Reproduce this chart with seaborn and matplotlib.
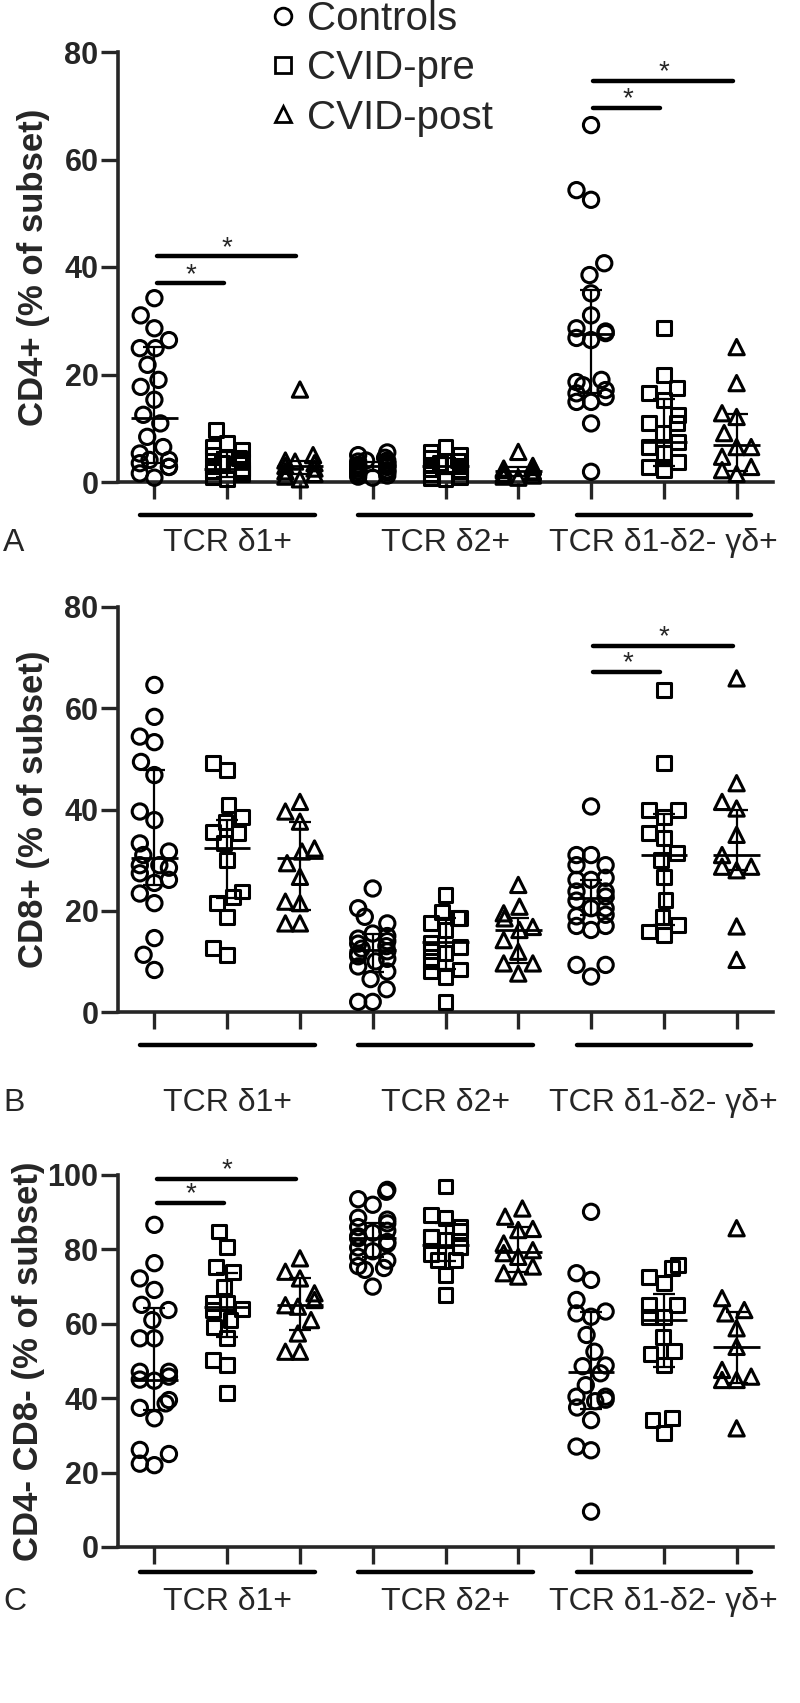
import numpy as np
import pandas as pd
import matplotlib
matplotlib.use('Agg')
import matplotlib.pyplot as plt
import matplotlib.transforms as mtransforms
from matplotlib.lines import Line2D
import seaborn as sns

sns.set_style('ticks')
plt.rcParams['font.family'] = ['Liberation Sans', 'DejaVu Sans']

subsets = ['TCR δ1+', 'TCR δ2+', 'TCR δ1-δ2- γδ+']
groups = ['Controls', 'CVID-pre', 'CVID-post']
markers = ['o', 's', '^']
marker_sizes = [11, 10, 11]

# Panel A: CD4+
cd4_d1_ctrl = [34.2, 31.0, 28.6, 26.4, 24.9, 24.9, 21.8, 19.0, 17.7, 15.3, 12.5, 10.9, 8.4, 6.5, 5.3, 4.1, 4.1, 3.5, 2.8, 2.8, 1.6, 0.8]
cd4_d1_pre = [9.7, 7.2, 6.5, 6.0, 5.0, 4.5, 4.0, 3.5, 3.0, 2.5, 2.0, 1.8, 1.5, 1.0, 0.5]
cd4_d1_post = [17.2, 5.0, 4.0, 3.8, 3.5, 3.0, 2.5, 2.0, 1.5, 1.0, 0.5]
cd4_d2_ctrl = [5.5, 5.0, 4.5, 4.0, 4.0, 3.8, 3.5, 3.5, 3.2, 3.0, 3.0, 2.8, 2.5, 2.5, 2.2, 2.0, 2.0, 1.8, 1.5, 1.2, 1.0, 0.8]
cd4_d2_pre = [6.5, 5.5, 5.0, 4.5, 4.0, 3.5, 3.2, 3.0, 2.5, 2.2, 2.0, 1.5, 1.0, 0.8, 0.5]
cd4_d2_post = [5.6, 3.0, 2.8, 2.5, 2.2, 2.0, 1.8, 1.5, 1.2, 1.0, 0.8]
cd4_dn_ctrl = [66.4, 54.3, 52.5, 40.7, 38.5, 35.1, 31.0, 28.6, 28.0, 27.7, 26.8, 26.4, 19.0, 18.6, 18.0, 17.1, 16.5, 15.8, 14.9, 14.9, 10.9, 1.9]
cd4_dn_pre = [28.6, 19.9, 17.5, 16.5, 15.3, 12.5, 10.9, 10.9, 9.1, 7.4, 6.5, 5.4, 3.7, 2.8, 2.2]
cd4_dn_post = [25.1, 18.4, 12.8, 12.1, 9.1, 6.5, 6.5, 4.7, 2.8, 2.2, 1.5]
cd4_median = [11.9, 2.5, 3.0, 2.9, 3.0, 2.0, 27.5, 7.4, 6.8]
cd4_q1 = [3.5, 1.0, 1.5, 2.0, 1.5, 1.2, 16.5, 3.0, 2.0]
cd4_q3 = [25.1, 5.5, 4.0, 3.8, 4.5, 2.8, 35.7, 15.5, 12.7]
cd4_sig = [('TCR δ1+', 'CVID-pre', 37.0), ('TCR δ1+', 'CVID-post', 42.0),
           ('TCR δ1-δ2- γδ+', 'CVID-pre', 69.6), ('TCR δ1-δ2- γδ+', 'CVID-post', 74.6)]

# Panel B: CD8+
cd8_d1_ctrl = [64.6, 58.3, 54.4, 53.3, 49.4, 46.8, 39.6, 37.9, 33.3, 31.7, 31.0, 29.0, 29.0, 28.5, 27.4, 26.1, 25.5, 23.4, 21.5, 14.6, 11.3, 8.3]
cd8_d1_pre = [49.1, 47.8, 40.9, 38.6, 37.6, 35.6, 35.3, 33.3, 30.0, 23.8, 22.8, 21.5, 18.8, 12.6, 11.3]
cd8_d1_post = [41.5, 39.6, 37.6, 32.3, 31.7, 29.4, 26.7, 21.8, 21.5, 17.5, 17.5]
cd8_d2_ctrl = [24.4, 20.5, 18.8, 17.5, 15.5, 15.0, 14.5, 14.0, 13.5, 13.0, 12.5, 12.0, 11.5, 11.0, 10.5, 10.0, 9.0, 8.0, 6.5, 4.5, 2.0, 2.0]
cd8_d2_pre = [23.1, 19.8, 18.5, 18.5, 17.5, 16.2, 13.6, 12.9, 12.0, 11.6, 10.0, 8.4, 8.0, 7.0, 2.0]
cd8_d2_post = [25.1, 20.8, 19.5, 18.5, 16.8, 16.2, 14.2, 11.9, 9.6, 9.6, 7.6]
cd8_dn_ctrl = [40.6, 31.0, 31.0, 29.0, 29.0, 26.5, 26.1, 26.1, 23.8, 23.8, 22.8, 22.0, 20.5, 20.5, 19.2, 18.9, 17.0, 17.0, 16.2, 9.3, 9.3, 7.0]
cd8_dn_pre = [63.6, 49.1, 39.9, 39.9, 38.6, 35.3, 34.3, 31.4, 30.0, 26.7, 22.1, 18.8, 17.2, 15.9, 15.2]
cd8_dn_post = [65.9, 45.2, 41.5, 40.2, 35.0, 31.0, 28.7, 28.7, 28.0, 16.9, 10.3]
cd8_median = [30.4, 32.3, 30.4, 12.3, 13.9, 16.2, 22.5, 31.0, 31.0]
cd8_q1 = [25.1, 22.5, 20.1, 8.0, 8.4, 9.6, 19.2, 17.2, 28.0]
cd8_q3 = [47.8, 37.9, 37.6, 15.5, 18.5, 18.5, 26.0, 39.2, 39.9]
cd8_sig = [('TCR δ1-δ2- γδ+', 'CVID-pre', 67.2), ('TCR δ1-δ2- γδ+', 'CVID-post', 72.3)]

# Panel C: CD4- CD8-
cdn_d1_ctrl = [86.6, 76.3, 72.2, 69.1, 65.1, 63.7, 61.0, 56.1, 56.1, 47.1, 47.1, 45.8, 45.0, 44.7, 39.5, 38.6, 37.4, 34.6, 26.1, 25.0, 22.4, 22.0]
cdn_d1_pre = [84.8, 80.7, 75.3, 74.0, 70.0, 65.5, 65.5, 64.0, 63.7, 61.0, 59.2, 56.1, 50.3, 48.9, 41.3]
cdn_d1_post = [77.6, 74.0, 72.2, 68.2, 66.4, 65.0, 64.6, 61.0, 57.4, 52.5, 52.5]
cdn_d2_ctrl = [96.0, 95.5, 93.5, 92.0, 88.5, 88.0, 87.0, 86.0, 85.0, 84.5, 83.5, 83.0, 82.0, 81.5, 80.5, 79.5, 78.0, 77.0, 75.5, 75.0, 74.5, 70.0]
cdn_d2_pre = [96.9, 89.2, 88.4, 86.0, 85.0, 83.4, 83.4, 82.5, 80.7, 80.7, 78.8, 77.2, 77.2, 73.1, 67.7]
cdn_d2_post = [91.0, 88.8, 85.5, 85.2, 81.6, 79.8, 79.0, 78.0, 75.4, 73.6, 72.7]
cdn_dn_ctrl = [90.1, 73.6, 71.8, 66.4, 63.3, 62.8, 61.9, 57.0, 52.5, 48.8, 48.6, 46.7, 43.5, 40.4, 40.4, 39.6, 39.2, 37.5, 34.1, 27.0, 26.0, 9.5]
cdn_dn_pre = [75.8, 74.9, 72.5, 70.9, 65.0, 65.0, 61.9, 61.9, 56.5, 52.8, 52.0, 49.0, 34.6, 34.1, 30.6]
cdn_dn_post = [85.7, 66.9, 63.7, 62.8, 58.8, 53.8, 47.6, 45.8, 44.9, 44.9, 31.9]
cdn_median = [44.9, 64.6, 65.0, 83.0, 81.2, 79.4, 47.0, 61.0, 53.8]
cdn_q1 = [36.8, 56.5, 58.3, 78.0, 77.0, 74.0, 37.0, 48.5, 44.1]
cdn_q3 = [64.2, 73.6, 72.2, 87.0, 87.0, 86.0, 63.3, 68.0, 63.3]
cdn_sig = [('TCR δ1+', 'CVID-pre', 92.5), ('TCR δ1+', 'CVID-post', 98.9)]

# every real category is followed by an empty spacer slot so the swarms stay narrow
cats = [f'{s}|{g}' for s in subsets for g in groups]
order = []
for k, c in enumerate(cats):
    order.append(c)
    if k < len(cats) - 1:
        order.append(f'gap{k}')
pos = {c: order.index(c) for c in cats}
unit = 2  # slots between neighbouring categories


def make_frame(sets):
    rows = []
    for s, subset in enumerate(subsets):
        for g, group in enumerate(groups):
            for v in sets[s][g]:
                rows.append({'cat': f'{subset}|{group}', 'group': group, 'value': v})
    return pd.DataFrame(rows)


def draw_panel(ax, df, med, lo, hi, sig, ymax, ylabel, letter, line_y, label_y, letter_y,
               label_x=-0.104):
    for g, group in enumerate(groups):
        sns.swarmplot(data=df[df['group'] == group], x='cat', y='value', order=order,
                      marker=markers[g], size=marker_sizes[g], color='white',
                      edgecolor='black', linewidth=2.2, warn_thresh=1, ax=ax, zorder=3)
    for c in ax.collections:
        if len(c.get_offsets()) > 0:
            c.set_facecolor('none')
            c.set_clip_on(False)

    # median with interquartile range
    for i, cat in enumerate(cats):
        x = pos[cat]
        ax.hlines(med[i], x - 0.32 * unit, x + 0.32 * unit, color='black', lw=2.0, zorder=4)
        ax.vlines(x, lo[i], hi[i], color='black', lw=1.6, zorder=4)
        ax.hlines([lo[i], hi[i]], x - 0.15 * unit, x + 0.15 * unit, color='black', lw=1.6, zorder=4)

    # significance bars
    for subset, other, h in sig:
        x0 = pos[f'{subset}|Controls']
        x1 = pos[f'{subset}|{other}']
        ax.plot([x0 + 0.03 * unit, x1 - 0.05 * unit], [h, h], color='black', lw=3.2,
                solid_capstyle='round', clip_on=False)
        ax.annotate('*', xy=((x0 + x1) / 2, h), xytext=(0, 1), textcoords='offset points',
                    ha='center', va='baseline', fontsize=20)

    ax.set_xlim(-0.5 * unit, pos[cats[-1]] + 0.5 * unit)
    ax.set_ylim(0, ymax)
    ax.set_yticks(np.arange(0, ymax + 1, 20))
    ax.set_xticks([pos[c] for c in cats])
    ax.set_xticklabels([])
    ax.set_xlabel('')
    ax.tick_params(axis='both', length=12, width=2.4, direction='out', pad=2)
    for lab in ax.get_yticklabels():
        lab.set_fontsize(22)
        lab.set_fontweight('bold')
    sns.despine(ax=ax)
    ax.spines['left'].set_linewidth(2.6)
    ax.spines['bottom'].set_linewidth(2.6)
    ax.set_ylabel(ylabel, fontsize=25, fontweight='bold')
    ax.yaxis.set_label_coords(label_x, 0.5)

    trans = mtransforms.blended_transform_factory(ax.transData, ax.transAxes)
    for s, subset in enumerate(subsets):
        first = pos[f'{subset}|{groups[0]}']
        last = pos[f'{subset}|{groups[-1]}']
        ax.plot([first - 0.2 * unit, last + 0.2 * unit], [line_y, line_y], transform=trans,
                color='black', lw=3.2, clip_on=False)
        ax.text((first + last) / 2, label_y, subset, transform=trans, ha='center',
                va='center', fontsize=23)
    fig.text(3 / 800, letter_y, letter, ha='left', va='center', fontsize=23)


fig = plt.figure(figsize=(8, 17.03), dpi=100)
W, H = 800, 1703
ax_a = fig.add_axes([118 / W, 1 - 482 / H, 655 / W, 430 / H])
ax_b = fig.add_axes([118 / W, 1 - 1012 / H, 655 / W, 405 / H])
ax_c = fig.add_axes([118 / W, 1 - 1547 / H, 655 / W, 372 / H])

df_a = make_frame([[cd4_d1_ctrl, cd4_d1_pre, cd4_d1_post],
                   [cd4_d2_ctrl, cd4_d2_pre, cd4_d2_post],
                   [cd4_dn_ctrl, cd4_dn_pre, cd4_dn_post]])
df_b = make_frame([[cd8_d1_ctrl, cd8_d1_pre, cd8_d1_post],
                   [cd8_d2_ctrl, cd8_d2_pre, cd8_d2_post],
                   [cd8_dn_ctrl, cd8_dn_pre, cd8_dn_post]])
df_c = make_frame([[cdn_d1_ctrl, cdn_d1_pre, cdn_d1_post],
                   [cdn_d2_ctrl, cdn_d2_pre, cdn_d2_post],
                   [cdn_dn_ctrl, cdn_dn_pre, cdn_dn_post]])

draw_panel(ax_a, df_a, cd4_median, cd4_q1, cd4_q3, cd4_sig, 80, 'CD4+ (% of subset)', 'A',
           -0.0767, -0.142, 1 - 543 / H)
draw_panel(ax_b, df_b, cd8_median, cd8_q1, cd8_q3, cd8_sig, 80, 'CD8+ (% of subset)', 'B',
           -0.0815, -0.2247, 1 - 1103 / H)
draw_panel(ax_c, df_c, cdn_median, cdn_q1, cdn_q3, cdn_sig, 100, 'CD4- CD8- (% of subset)', 'C',
           -0.067, -0.148, 1 - 1602 / H, label_x=-0.112)

handles = [Line2D([], [], marker=m, ls='none', mfc='none', mec='black', mew=2.0, ms=12)
           for m in markers]
fig.legend(handles, groups, loc='upper left', bbox_to_anchor=(267 / W, 1.0), frameon=False,
           fontsize=29, handletextpad=0.2, labelspacing=0.28, borderaxespad=0,
           handlelength=0.8, borderpad=0)

fig.savefig('out.png', dpi=100)
